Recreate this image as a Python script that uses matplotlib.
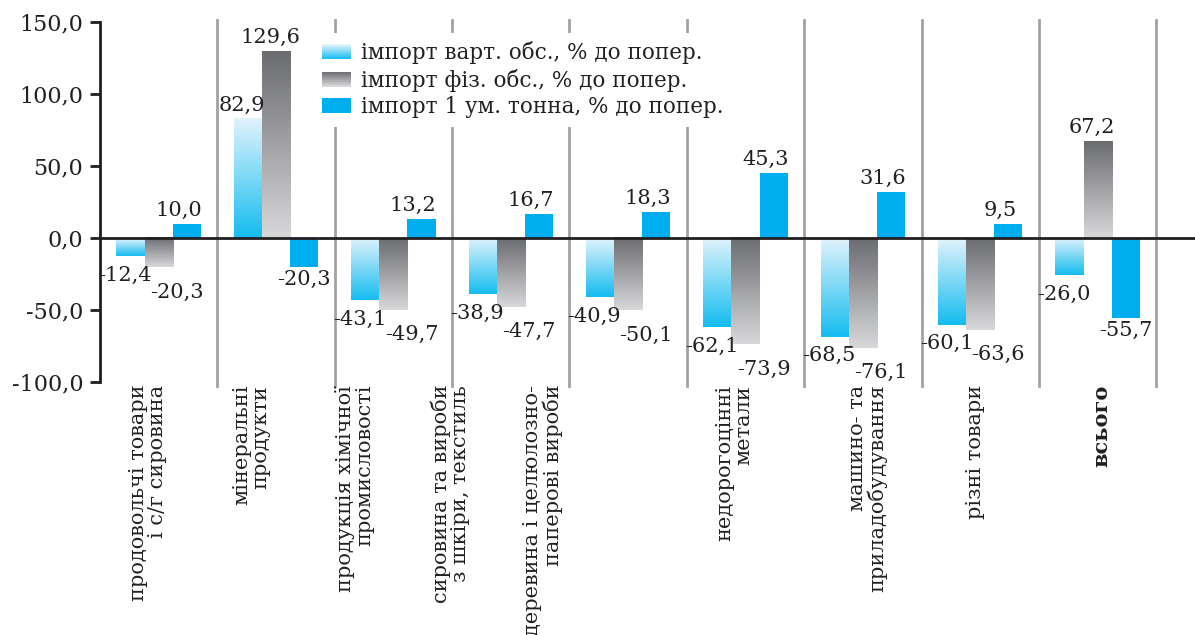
import numpy as np
import matplotlib
matplotlib.use("Agg")
import matplotlib.pyplot as plt
from matplotlib.colors import LinearSegmentedColormap
from matplotlib.patches import Rectangle
from matplotlib.legend_handler import HandlerBase
from matplotlib.ticker import FuncFormatter, FixedLocator

# ---------------- data ----------------
categories = [
    "продовольчі товари\nі с/г сировина",
    "мінеральні\nпродукти",
    "продукція хімічної\nпромисловості",
    "сировина та вироби\nз шкіри, текстиль",
    "деревина і целюлозно-\nпаперові вироби",
    "недорогоцінні\nметали",
    "машино- та\nприладобудування",
    "різні товари",
    "всього",
]
import_value = [-12.4, 82.9, -43.1, -38.9, -40.9, -62.1, -68.5, -60.1, -26.0]
import_physical = [-20.3, 129.6, -49.7, -47.7, -50.1, -73.9, -76.1, -63.6, 67.2]
import_per_ton = [10.0, -20.3, 13.2, 16.7, 18.3, 45.3, 31.6, 9.5, -55.7]
series_names = [
    "імпорт варт. обс., % до попер.",
    "імпорт фіз. обс., % до попер.",
    "імпорт 1 ум. тонна, % до попер.",
]
y_ticks = [-100, -50, 0, 50, 100, 150]

# ---------------- style ----------------
plt.rcParams["font.family"] = ["DejaVu Serif"]
TXT = "#231f20"
SEP = "#a0a2a5"
grad_blue = ("#e2f3fc", "#14bcef")
grad_gray = ("#6b6c70", "#d8d8da")
solid_blue = "#00aeef"
label_dx_px = [-11, -25, -39, -61, -85, -11, 5, -5, 4]

fig = plt.figure(figsize=(11.95, 6.35), dpi=100)
ax = fig.add_axes([100 / 1195, 1 - 382 / 635, 1095 / 1195, 360 / 635])

x = np.arange(len(categories))
w = 0.24
offsets = [-w, 0, w]
series = [import_value, import_physical, import_per_ton]


def draw_gradient(bar, colors):
    x0 = bar.get_x()
    x1 = x0 + bar.get_width()
    y0 = bar.get_y()
    y1 = y0 + bar.get_height()
    lo, hi = min(y0, y1), max(y0, y1)
    cmap = LinearSegmentedColormap.from_list("g", list(colors))
    grad = np.linspace(0, 1, 256).reshape(-1, 1)
    ax.imshow(grad, cmap=cmap, origin="upper", extent=[x0, x1, lo, hi],
              aspect="auto", zorder=2, interpolation="bilinear")


bars_all = []
for k, (vals, off) in enumerate(zip(series, offsets)):
    if k == 2:
        bars = ax.bar(x + off, vals, w, color=solid_blue, zorder=2, linewidth=0)
    else:
        bars = ax.bar(x + off, vals, w, color="none", zorder=2, linewidth=0)
        for b in bars:
            draw_gradient(b, grad_blue if k == 0 else grad_gray)
    bars_all.append(bars)

# separators
for i in range(len(categories)):
    ax.axvline(i + 0.5, ymin=-0.01, ymax=1.005, color=SEP, lw=2, zorder=1,
               clip_on=False)

ax.axhline(0, color=TXT, lw=2, zorder=3)

ax.set_xlim(-0.5, 8.83)
ax.set_ylim(-100, 150)
for s in ["top", "right", "bottom"]:
    ax.spines[s].set_visible(False)
ax.spines["left"].set_linewidth(2)
ax.spines["left"].set_color(TXT)
ax.yaxis.set_major_locator(FixedLocator(y_ticks))
ax.yaxis.set_major_formatter(FuncFormatter(lambda v, p: f"{v:.1f}".replace(".", ",")))
ax.tick_params(axis="y", length=7, width=2, color=TXT, labelsize=16,
               labelcolor=TXT, pad=5)
ax.set_xticks([])

# value labels
fs = 15
fmt = lambda v: f"{v:.1f}".replace(".", ",")
for k, bars in enumerate(bars_all):
    for b, v in zip(bars, series[k]):
        cx = b.get_x() + b.get_width() / 2
        if v >= 0:
            dx, dy, va = (-6 if k == 2 else -4), 3, "bottom"
        else:
            if k == 0:
                dx, dy = -4, -7
            elif k == 1:
                dx, dy = 13, -11
            else:
                dx, dy = 0, -2
            va = "top"
        ax.annotate(fmt(v), xy=(cx, v), xytext=(dx, dy), textcoords="offset points",
                    ha="center", va=va, fontsize=fs, color=TXT, zorder=4)

# category labels
for i, (lab, dxp) in enumerate(zip(categories, label_dx_px)):
    ax.annotate(lab, xy=(i, 0), xycoords=("data", "axes fraction"),
                xytext=(dxp * 0.72, -2), textcoords="offset points",
                rotation=90, ha="center", va="top", multialignment="right",
                fontsize=15, color=TXT, linespacing=1.0,
                fontweight="bold" if i == len(categories) - 1 else "normal",
                annotation_clip=False)


# legend with gradient handles
class GradHandler(HandlerBase):
    def __init__(self, colors, n=24):
        super().__init__()
        self.colors = colors
        self.n = n

    def create_artists(self, legend, orig_handle, xdescent, ydescent, width,
                       height, fontsize, trans):
        cmap = LinearSegmentedColormap.from_list("g", list(self.colors))
        arts = []
        h = height / self.n
        for j in range(self.n):
            c = cmap(j / (self.n - 1))
            r = Rectangle((-xdescent, -ydescent + height - (j + 1) * h), width, h * 1.05,
                          facecolor=c, edgecolor="none", transform=trans)
            arts.append(r)
        return arts


h0 = Rectangle((0, 0), 1, 1)
h1 = Rectangle((0, 1), 1, 1)
h2 = Rectangle((0, 0), 1, 1, facecolor=solid_blue, edgecolor="none")
leg = fig.legend([h0, h1, h2], series_names,
                 handler_map={h0: GradHandler(grad_blue), h1: GradHandler(grad_gray)},
                 loc="upper left", bbox_to_anchor=(303 / 1195, 1 - 22 / 635),
                 frameon=True, fancybox=False, facecolor="white", edgecolor="none",
                 framealpha=1, fontsize=15.5, handlelength=1.35, handleheight=0.7,
                 handletextpad=0.45, labelspacing=0.2, borderpad=0.4)
for t in leg.get_texts():
    t.set_color(TXT)

fig.savefig("out.png", dpi=100)
